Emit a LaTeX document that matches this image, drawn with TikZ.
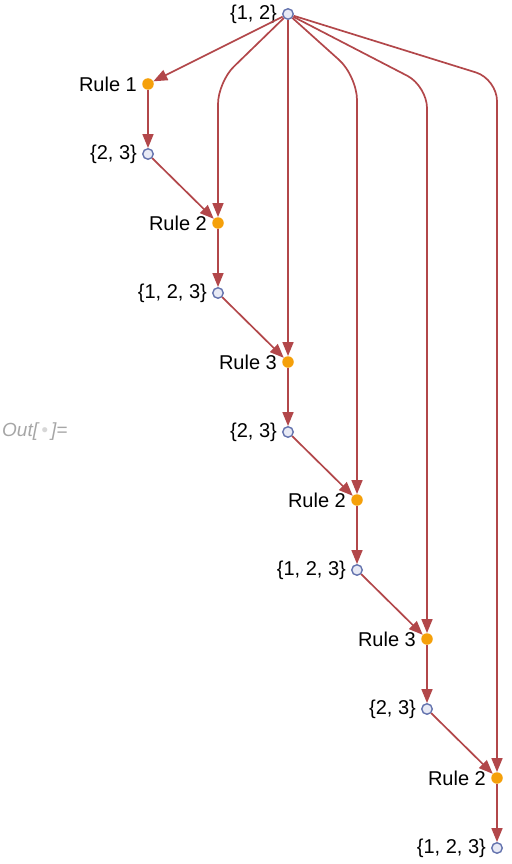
\documentclass[tikz,border=0pt]{standalone}
\usepackage{fontspec}
\setmainfont{Liberation Sans}
\usetikzlibrary{arrows.meta}
\definecolor{edgec}{HTML}{B2474A}
\definecolor{vstroke}{HTML}{6473AE}
\definecolor{vfill}{HTML}{E8EAF5}
\definecolor{rulec}{HTML}{F5A00A}
\definecolor{outc}{HTML}{A6A6A6}
\begin{document}
\begin{tikzpicture}[x=1pt,y=-1pt,
  vert/.style={circle, draw=vstroke, fill=vfill, line width=1.4pt, minimum size=10.5pt, inner sep=0pt},
  rulen/.style={circle, fill=rulec, minimum size=11.5pt, inner sep=0pt},
  lbl/.style={font=\fontsize{20}{22}\selectfont, label distance=4pt, inner sep=1pt},
  edge/.style={draw=edgec, line width=1.7pt, -{Triangle[length=14pt,width=11pt]}}]
\useasboundingbox (0,0) rectangle (511,864);
\node[vert, label={[lbl]left:{\{1, 2\}}}] (v0) at (288,14) {};
\node[rulen, label={[lbl]left:Rule 1}] (r1) at (148,84) {};
\node[vert, label={[lbl]left:{\{2, 3\}}}] (v1) at (148,154) {};
\node[rulen, label={[lbl]left:Rule 2}] (r2) at (218,223) {};
\node[vert, label={[lbl]left:{\{1, 2, 3\}}}] (v2) at (218,293) {};
\node[rulen, label={[lbl]left:Rule 3}] (r3) at (288,362) {};
\node[vert, label={[lbl]left:{\{2, 3\}}}] (v3) at (288,432) {};
\node[rulen, label={[lbl]left:Rule 2}] (r4) at (357,500) {};
\node[vert, label={[lbl]left:{\{1, 2, 3\}}}] (v4) at (357,570) {};
\node[rulen, label={[lbl]left:Rule 3}] (r5) at (427,639) {};
\node[vert, label={[lbl]left:{\{2, 3\}}}] (v5) at (427,709) {};
\node[rulen, label={[lbl]left:Rule 2}] (r6) at (497,778) {};
\node[vert, label={[lbl]left:{\{1, 2, 3\}}}] (v6) at (497,848) {};
\node[anchor=west, inner sep=0pt, text=outc, font=\itshape\fontsize{19}{21}\selectfont] (out) at (2,432) {Out[\,\textcolor{outc!45}{\textbullet}\,]=};
\coordinate (c2) at (218,82);
\coordinate (c4) at (357,76);
\coordinate (c5) at (427,86);
\coordinate (c6) at (497,79);
\draw[edge] (v0) -- (r1);
\draw[edge, rounded corners=22pt] (v0) -- (c2) -- (r2);
\draw[edge] (v0) -- (r3);
\draw[edge, rounded corners=24pt] (v0) -- (c4) -- (r4);
\draw[edge, rounded corners=22pt] (v0) -- (c5) -- (r5);
\draw[edge, rounded corners=22pt] (v0) -- (c6) -- (r6);
\draw[edge] (r1) -- (v1);
\draw[edge] (v1) -- (r2);
\draw[edge] (r2) -- (v2);
\draw[edge] (v2) -- (r3);
\draw[edge] (r3) -- (v3);
\draw[edge] (v3) -- (r4);
\draw[edge] (r4) -- (v4);
\draw[edge] (v4) -- (r5);
\draw[edge] (r5) -- (v5);
\draw[edge] (v5) -- (r6);
\draw[edge] (r6) -- (v6);
\end{tikzpicture}
\end{document}
